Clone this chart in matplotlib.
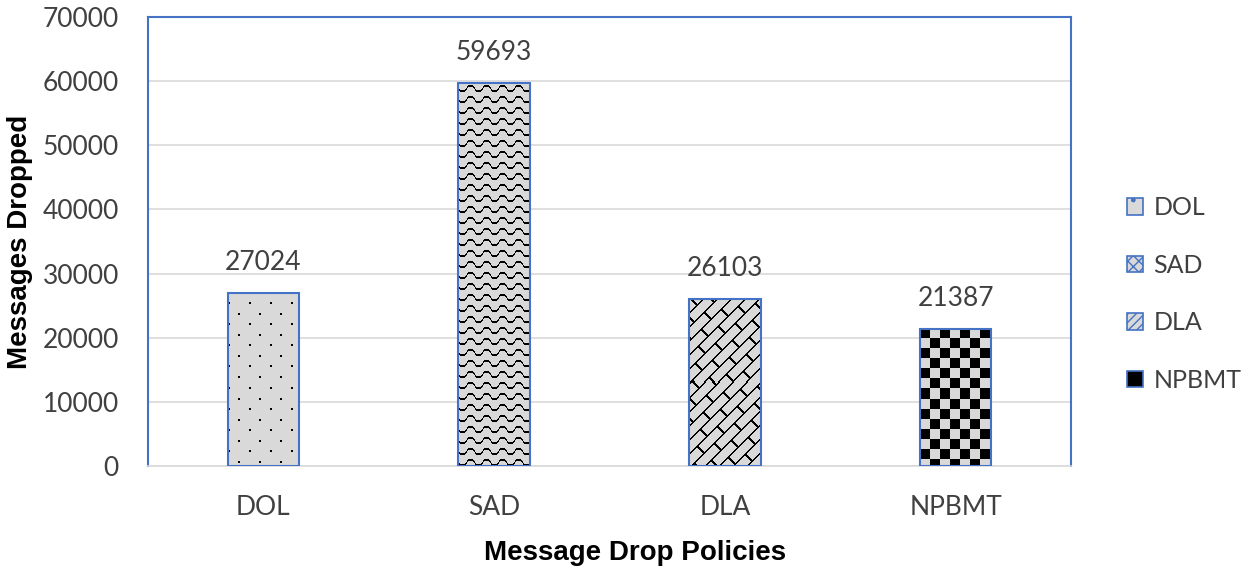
import numpy as np
import matplotlib
matplotlib.use("Agg")
import matplotlib.pyplot as plt
from matplotlib.patches import Rectangle

categories = ["DOL", "SAD", "DLA", "NPBMT"]
values = [27024, 59693, 26103, 21387]
y_ticks = [0, 10000, 20000, 30000, 40000, 50000, 60000, 70000]

GRAY = np.array([217, 217, 217]) / 255.0
BLACK = np.array([0, 0, 0]) / 255.0
BLUE = "#4472C4"
TXT = "#404040"

W, H = 1250, 574
fig = plt.figure(figsize=(W / 100, H / 100), dpi=100)
L, R, T, B = 148, 1071, 17, 466
ax = fig.add_axes([L / W, 1 - B / H, (R - L) / W, (B - T) / H])


def pattern(kind, h, w):
    ii, jj = np.mgrid[0:h, 0:w]
    mask = np.zeros((h, w), bool)
    if kind == "dots":
        r = ii % 21
        c = jj % 21
        mask |= (r < 2) & ((c >= 10) & (c < 12))
        mask |= ((r >= 10) & (r < 12)) & (c < 2)
    elif kind == "wave":
        y = (ii % 11).astype(float)
        phase = jj / 16.0 * 2 * np.pi
        center = 5 + 2.6 * np.sign(np.sin(phase)) * np.minimum(1, np.abs(np.sin(phase)) * 1.6)
        mask |= np.abs(y - center) < 1.0
    elif kind == "brick":
        P = 14
        a = (ii + jj)
        k = a // P
        mask |= (a % P) < 2
        b = (jj - ii + (k % 2) * 20) % 40
        mask |= b < 3
    elif kind == "check":
        mask |= ((ii // 10) + (jj // 10)) % 2 == 0
    img = np.ones((h, w, 3)) * GRAY
    img[mask] = BLACK
    return img


kinds = ["dots", "wave", "brick", "check"]
x = np.arange(len(categories))
width = 0.31

ax.set_xlim(-0.5, len(categories) - 0.5)
ax.set_ylim(0, 70000)
ax.set_yticks(y_ticks)
ax.grid(axis="y", color="#D9D9D9", linewidth=1.2, zorder=0)
ax.set_axisbelow(True)

bars = ax.bar(x, values, width=width, facecolor=GRAY, edgecolor="none", zorder=2)
fig.canvas.draw()
for bar, kind in zip(bars, kinds):
    bx0, by0 = bar.get_x(), 0
    bx1, by1 = bar.get_x() + bar.get_width(), bar.get_height()
    p0 = ax.transData.transform((bx0, by0))
    p1 = ax.transData.transform((bx1, by1))
    wpx = max(1, int(round(p1[0] - p0[0])))
    hpx = max(1, int(round(p1[1] - p0[1])))
    img = pattern(kind, hpx, wpx)
    ax.imshow(img, extent=(bx0, bx1, by0, by1), aspect="auto",
              interpolation="nearest", zorder=3)
ax.bar(x, values, width=width, facecolor="none", edgecolor=BLUE,
       linewidth=1.5, zorder=4)
ax.set_xlim(-0.5, len(categories) - 0.5)
ax.set_ylim(0, 70000)

for xi, v in zip(x, values):
    ax.annotate(f"{v}", (xi, v), xytext=(0, 13), textcoords="offset points",
                ha="center", va="bottom", fontsize=19, family="Lato", color=TXT)

for s in ["left", "top", "right"]:
    ax.spines[s].set_color(BLUE)
    ax.spines[s].set_linewidth(1.5)
ax.spines["bottom"].set_color("#D9D9D9")
ax.spines["bottom"].set_linewidth(1.2)

ax.set_xticks(x)
ax.set_xticklabels(categories)
ax.tick_params(axis="both", length=0, labelsize=19, labelcolor=TXT)
ax.tick_params(axis="y", pad=21)
ax.tick_params(axis="x", pad=21)
for lab in ax.get_xticklabels() + ax.get_yticklabels():
    lab.set_family("Lato")

fig.text(20 / W, 1 - 242 / H, "Messages Dropped", rotation=90, ha="center", va="center",
         fontsize=20, fontweight="bold", family="Liberation Sans", color="black")
fig.text(635 / W, 1 - 553 / H, "Message Drop Policies", ha="center", va="center",
         fontsize=20, fontweight="bold", family="Liberation Sans", color="black")

hatches = [".", "xxx", "////", None]
handles = []
for k, h in zip(kinds, hatches):
    fc = GRAY if k != "check" else "black"
    handles.append(Rectangle((0, 0), 1, 1, facecolor=fc, edgecolor=BLUE,
                             linewidth=1.2, hatch=h))
leg = fig.legend(handles, categories, loc="center left",
                 bbox_to_anchor=(1127 / W, 1 - 294 / H), frameon=False,
                 handlelength=0.65, handleheight=0.65, handletextpad=0.4,
                 labelspacing=1.38, borderpad=0, borderaxespad=0,
                 prop={"family": "Lato", "size": 18})
for t in leg.get_texts():
    t.set_color(TXT)

fig.savefig("out.png", dpi=100)
